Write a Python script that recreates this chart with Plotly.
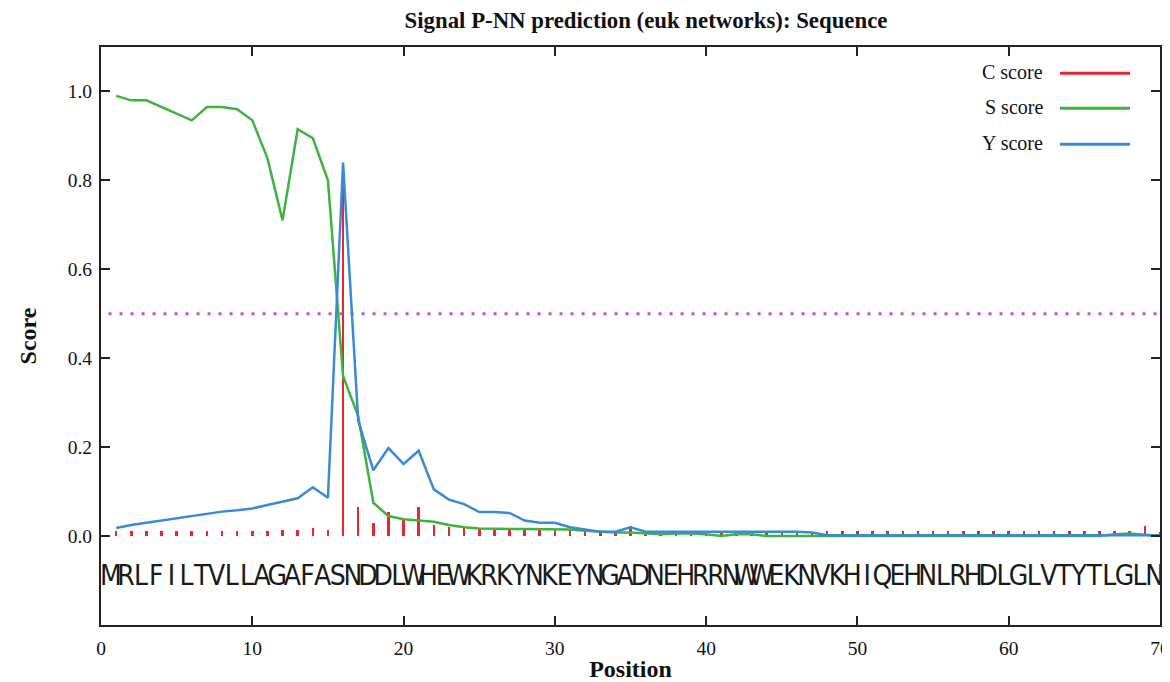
import plotly.graph_objects as go

# ---------------- data ----------------
sequence = list("MRLFILTVLLAGAFASNDDLWHEWKRKYNKEYNGADNEHRRNWWEKNVKHIQEHNLRHDLGLVTYTLGLN")
positions = list(range(1, 71))

c_score = [0.012, 0.012, 0.012, 0.012, 0.012, 0.012, 0.012, 0.012, 0.012, 0.012,
           0.012, 0.013, 0.014, 0.018, 0.013, 0.796, 0.065, 0.030, 0.055, 0.036,
           0.065, 0.025, 0.020, 0.020, 0.016, 0.016, 0.015, 0.015, 0.015, 0.015,
           0.015, 0.010, 0.010, 0.010, 0.022, 0.010, 0.010, 0.010, 0.010, 0.010,
           0.010, 0.010, 0.010, 0.010, 0.010, 0.010, 0.010, 0.012, 0.012, 0.012,
           0.012, 0.012, 0.012, 0.012, 0.012, 0.012, 0.012, 0.012, 0.012, 0.012,
           0.012, 0.012, 0.012, 0.012, 0.012, 0.012, 0.012, 0.012, 0.023, 0.010]

s_score = [0.990, 0.980, 0.980, 0.965, 0.950, 0.935, 0.965, 0.965, 0.960, 0.935,
           0.850, 0.710, 0.915, 0.895, 0.800, 0.360, 0.270, 0.075, 0.045, 0.038,
           0.035, 0.032, 0.025, 0.020, 0.017, 0.016, 0.016, 0.016, 0.016, 0.016,
           0.015, 0.012, 0.010, 0.008, 0.008, 0.006, 0.004, 0.006, 0.006, 0.004,
           0.000, 0.004, 0.004, 0.000, 0.000, 0.000, 0.000, 0.000, 0.000, 0.000,
           0.000, 0.000, 0.000, 0.000, 0.000, 0.000, 0.000, 0.000, 0.000, 0.000,
           0.000, 0.000, 0.000, 0.000, 0.000, 0.000, 0.004, 0.006, 0.003, 0.000]

y_score = [0.018, 0.025, 0.030, 0.035, 0.040, 0.045, 0.050, 0.055, 0.058, 0.062,
           0.070, 0.078, 0.085, 0.110, 0.086, 0.840, 0.260, 0.148, 0.198, 0.162,
           0.192, 0.105, 0.082, 0.072, 0.054, 0.054, 0.052, 0.035, 0.030, 0.030,
           0.020, 0.015, 0.010, 0.010, 0.020, 0.010, 0.010, 0.010, 0.010, 0.010,
           0.010, 0.010, 0.010, 0.010, 0.010, 0.010, 0.008, 0.002, 0.002, 0.002,
           0.002, 0.002, 0.002, 0.002, 0.002, 0.002, 0.002, 0.002, 0.002, 0.002,
           0.002, 0.002, 0.002, 0.002, 0.002, 0.002, 0.002, 0.002, 0.002, 0.002]

threshold = 0.5
threshold_x = [0.5, 70]
letter_level = -0.095

x_ticks = [0, 10, 20, 30, 40, 50, 60, 70]
y_ticks = [0.0, 0.2, 0.4, 0.6, 0.8, 1.0]
legend_names = ["C score", "S score", "Y score"]

RED = "#e8262e"
GREEN = "#3db43d"
BLUE = "#3a8ad6"
PURPLE = "#c055c8"
colors = [RED, GREEN, BLUE]

SERIF = "Liberation Serif, DejaVu Serif, serif"

# the page body has an 8px default margin; the figure is offset by it
FIG_W, FIG_H = 1170, 674

fig = go.Figure()

fig.add_trace(go.Scatter(x=threshold_x, y=[threshold, threshold], mode="lines",
                         line=dict(color=PURPLE, width=3, dash="3px,8px"),
                         hoverinfo="skip", showlegend=False))
fig.add_trace(go.Bar(x=positions, y=c_score, width=0.17, marker=dict(color=RED, line=dict(width=0)),
                     name="C score", showlegend=False))
fig.add_trace(go.Scatter(x=positions, y=s_score, mode="lines", line=dict(color=GREEN, width=2.5),
                         name="S score", showlegend=False))
fig.add_trace(go.Scatter(x=positions, y=y_score, mode="lines", line=dict(color=BLUE, width=2.5),
                         name="Y score", showlegend=False))
fig.add_trace(go.Scatter(x=[p - 0.35 for p in positions], y=[letter_level] * len(positions),
                         mode="text", text=sequence,
                         textfont=dict(family="Liberation Sans Narrow, DejaVu Sans Condensed, Roboto Condensed, sans-serif",
                                       size=28, color="#1a1a1a"),
                         hoverinfo="skip", showlegend=False))

# custom legend (text left, line sample right)
legend_y = [0.9567, 0.8962, 0.8339]
for name, col, ly in zip(legend_names, colors, legend_y):
    fig.add_annotation(xref="paper", yref="paper", x=0.8914, y=ly, text=name, showarrow=False,
                       xanchor="right", yanchor="middle", font=dict(family=SERIF, size=20, color="#111"))
    fig.add_shape(type="line", xref="paper", yref="paper", x0=0.9056, x1=0.9717, y0=ly - 0.002, y1=ly - 0.002,
                  line=dict(color=col, width=3))

axis_common = dict(showline=True, linewidth=2, linecolor="#222", mirror="ticks", ticks="inside",
                   ticklen=9, tickwidth=2, tickcolor="#222", showgrid=False, zeroline=False,
                   automargin=False,
                   tickfont=dict(family=SERIF, size=19.5, color="#111"))

fig.update_layout(
    width=FIG_W, height=FIG_H, autosize=False,
    margin=dict(l=93, r=18, t=39, b=57),
    paper_bgcolor="white", plot_bgcolor="white",
    bargap=0,
    title=dict(text="<b>Signal P-NN prediction (euk networks): Sequence</b>",
               x=638 / FIG_W, xref="container", xanchor="center",
               y=1 - 12 / FIG_H, yref="container", yanchor="middle",
               font=dict(family=SERIF, size=22.8, color="#111")),
    xaxis=dict(range=[0, 70], tickvals=x_ticks, ticktext=[str(t) for t in x_ticks],
               ticklabelstandoff=5,
               title=dict(text="<b>Position</b>", standoff=5, font=dict(family=SERIF, size=24, color="#111")),
               **axis_common),
    yaxis=dict(range=[-0.2, 1.1], tickvals=y_ticks, ticktext=[f"{t:.1f}" for t in y_ticks],
               ticklabelstandoff=3,
               title=dict(text="<b>Score</b>", standoff=24, font=dict(family=SERIF, size=24, color="#111")),
               **axis_common),
)

fig.write_html("out.html")
